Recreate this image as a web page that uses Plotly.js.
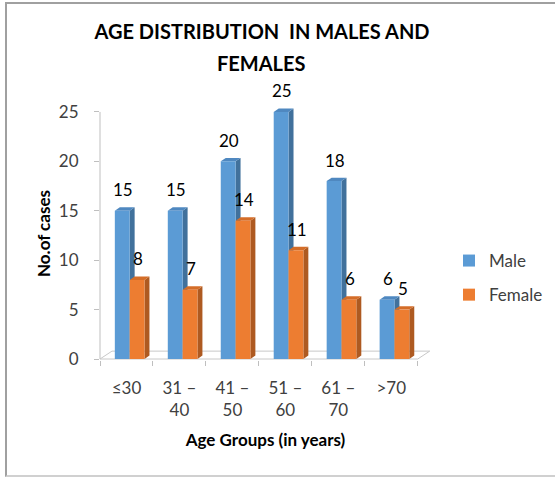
<!DOCTYPE html>
<html><head><meta charset="utf-8">
<script src="https://cdn.plot.ly/plotly-3.0.1.min.js"></script>
<style>
html,body{margin:0;padding:0;background:#fff;overflow:hidden;width:555px;height:477px;}
#wrap{position:relative;width:555px;height:477px;overflow:hidden;}
#chart{width:555px;height:477px;}
#frame{position:absolute;left:5px;top:2px;width:700px;height:471px;border-top:2px solid #a0a0a0;border-left:2px solid #a0a0a0;border-bottom:2px solid #d0d0d0;border-right:none;pointer-events:none;}
</style></head><body>
<div id="wrap"><div id="chart"></div><div id="frame"></div></div>
<script>
// ---- data ----
const categories = ["≤30", "31 – 40", "41 – 50", "51 – 60", "61 – 70", ">70"];
const tickLabels = ["≤30", "31 –<br>40", "41 –<br>50", "51 –<br>60", "61 –<br>70", ">70"];
const maleValues = [15, 15, 20, 25, 18, 6];
const femaleValues = [8, 7, 14, 11, 6, 5];
const seriesNames = ["Male", "Female"];
const yTickValues = [0, 5, 10, 15, 20, 25];
const titleLines = ["AGE DISTRIBUTION  IN MALES AND", "FEMALES"];

// ---- style ----
const FONT = "Lato, 'Open Sans', sans-serif";
const series = [
  {name: seriesNames[0], values: maleValues, offset: -0.22, width: 0.28,
   front: "#5B9BD5", side: "#41719C", top: "#4F88C0"},
  {name: seriesNames[1], values: femaleValues, offset: 0.06, width: 0.28,
   front: "#ED7D31", side: "#AE5A21", top: "#D46D28"}
];
const DX = 0.094, DY = 0.35;      // depth of bar side/top faces
const FDX = 0.226, FDY = 0.8;     // depth of floor

const traces = series.map((s, k) => ({
  type: "bar", name: s.name, x: categories, y: s.values,
  offset: s.offset, width: s.width,
  marker: {color: s.front, line: {width: 0}},
  legendgroup: "g" + k, hoverinfo: "skip"
}));

const shapes = [];
// floor
shapes.push({type: "path", xref: "x", yref: "y", layer: "below",
  path: `M -0.5,0 L ${-0.5 + FDX},${FDY} L ${categories.length - 0.5 + FDX},${FDY} L ${categories.length - 0.5},0 Z`,
  line: {color: "#C8C8C8", width: 1}, fillcolor: "rgba(0,0,0,0)"});
// y axis line
shapes.push({type: "line", xref: "x domain", yref: "y", x0: 0, x1: 0, y0: 0, y1: yTickValues[yTickValues.length - 1],
  line: {color: "#BFBFBF", width: 1}, layer: "below"});
// 3D faces
series.forEach(s => {
  s.values.forEach((v, i) => {
    const xl = i + s.offset, xr = i + s.offset + s.width;
    shapes.push({type: "path", xref: "x", yref: "y", layer: "below",
      path: `M ${xr},0 L ${xr + DX},${DY} L ${xr + DX},${v + DY} L ${xr},${v} Z`,
      fillcolor: s.side, line: {width: 0}});
    shapes.push({type: "path", xref: "x", yref: "y", layer: "below",
      path: `M ${xl},${v} L ${xl + DX},${v + DY} L ${xr + DX},${v + DY} L ${xr},${v} Z`,
      fillcolor: s.top, line: {width: 0}});
  });
});

const annotations = [];
series.forEach(s => {
  s.values.forEach((v, i) => {
    annotations.push({x: i + s.offset + s.width / 2 + 0.02, y: v, xref: "x", yref: "y",
      text: String(v), showarrow: false, yanchor: "middle", xanchor: "center", yshift: 21,
      font: {family: FONT, size: 17, color: "#000000"}});
  });
});
// second title line
annotations.push({xref: "paper", yref: "paper", x: 0.4894, y: 1.172, xanchor: "center", yanchor: "middle",
  text: "<b>" + titleLines[1] + "</b>", showarrow: false,
  font: {family: FONT, size: 20, color: "#000000"}});

const layout = {
  width: 555, height: 477,
  margin: {l: 100, r: 124, t: 107, b: 117, pad: 0},
  paper_bgcolor: "#ffffff", plot_bgcolor: "#ffffff",
  font: {family: FONT, size: 17, color: "#404040"},
  title: {text: "<b>" + titleLines[0] + "</b>",
    font: {family: FONT, size: 20, color: "#000000"},
    xref: "container", x: 262 / 555, xanchor: "center",
    yref: "container", y: 1 - 32 / 477, yanchor: "middle"},
  barmode: "overlay",
  showlegend: true,
  legend: {xref: "container", x: 449 / 555, xanchor: "left",
    yref: "container", y: 1 - 243 / 477, yanchor: "top",
    font: {family: FONT, size: 17, color: "#404040"},
    tracegroupgap: 9, bgcolor: "rgba(0,0,0,0)"},
  xaxis: {type: "category", range: [-0.5, 5.75], tickmode: "array",
    tickvals: categories, ticktext: tickLabels, tickson: "boundaries",
    ticks: "outside", ticklen: 5, tickcolor: "#BFBFBF", ticklabelstandoff: 16,
    showline: false, showgrid: false, zeroline: false,
    tickfont: {family: FONT, size: 17, color: "#404040"},
    title: {text: "<b>Age Groups (in years)</b>", standoff: 15,
      font: {family: FONT, size: 17, color: "#000000"}}},
  yaxis: {range: [-0.1, 25.5], tickmode: "array", tickvals: yTickValues,
    ticks: "outside", ticklen: 5, tickcolor: "#BFBFBF", ticklabelstandoff: 12,
    showline: false, showgrid: false, zeroline: false,
    tickfont: {family: FONT, size: 17, color: "#404040"},
    title: {text: "<b>No.of cases</b>", standoff: 3,
      font: {family: FONT, size: 17, color: "#000000"}}},
  shapes: shapes,
  annotations: annotations,
  hovermode: false
};

Plotly.newPlot("chart", traces, layout, {staticPlot: true, displayModeBar: false});
</script>
</body></html>
